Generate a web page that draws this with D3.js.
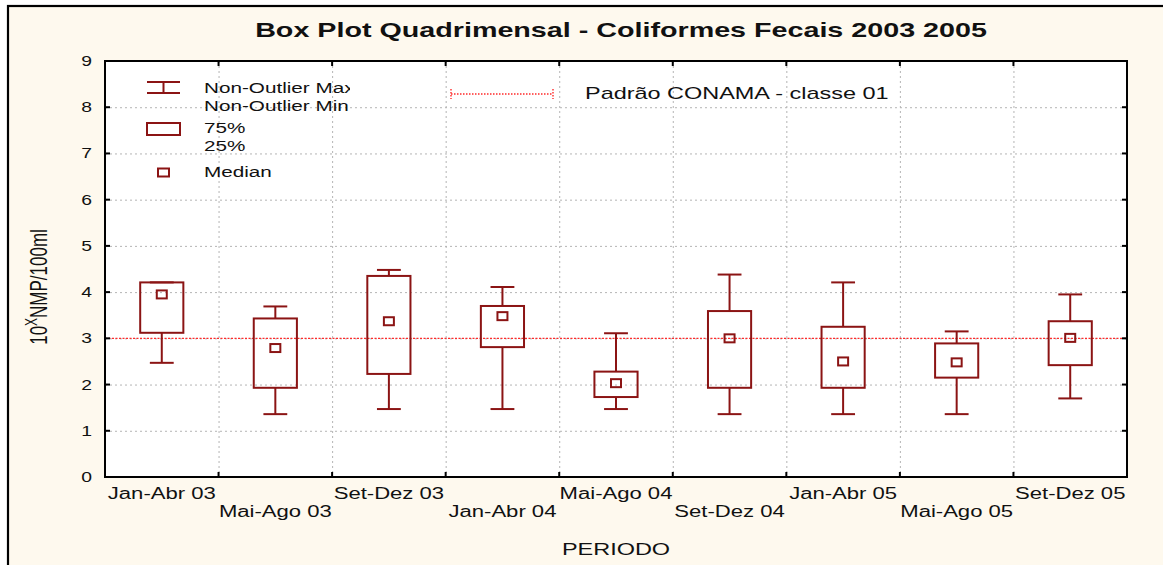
<!DOCTYPE html>
<html>
<head>
<meta charset="utf-8">
<script src="https://cdn.jsdelivr.net/npm/d3@7"></script>
<style>
  html, body { margin: 0; padding: 0; background: #fff; }
  svg { display: block; }
  text { font-family: "Liberation Sans", Arial, sans-serif; fill: #111; }
</style>
</head>
<body>
<svg id="chart" width="1163" height="565"></svg>
<script>
// ---- data ----
const periods = ['Jan-Abr 03', 'Mai-Ago 03', 'Set-Dez 03', 'Jan-Abr 04', 'Mai-Ago 04',
                 'Set-Dez 04', 'Jan-Abr 05', 'Mai-Ago 05', 'Set-Dez 05']
const mins    = [2.47, 1.36, 1.47, 1.47, 1.47, 1.36, 1.36, 1.36, 1.70]
const q1s     = [3.12, 1.93, 2.23, 2.81, 1.73, 1.93, 1.93, 2.15, 2.42]
const medians = [3.95, 2.79, 3.37, 3.48, 2.03, 3.00, 2.50, 2.48, 3.01]
const q3s     = [4.21, 3.43, 4.35, 3.70, 2.28, 3.59, 3.25, 2.89, 3.37]
const maxs    = [4.21, 3.69, 4.48, 4.11, 3.11, 4.38, 4.21, 3.15, 3.95]
const conama  = 3
const yTicks  = [0, 1, 2, 3, 4, 5, 6, 7, 8, 9]

const title = 'Box Plot Quadrimensal - Coliformes Fecais 2003 2005'

const boxColor = '#8b1414'
const refColor = '#ff2a2a'
const sx = 1.38   // the original picture is stretched sideways

const margin = {left: 105, right: 1127, top: 61, bottom: 477}

const svg = d3.select('#chart')

// background + frame (right and bottom edges fall outside the picture)
svg.append('rect').attr('x', 8).attr('y', 6).attr('width', 1170).attr('height', 580)
  .attr('fill', '#fef9ee').attr('stroke', '#000').attr('stroke-width', 2.2)

const x = d3.scaleBand().domain(periods).range([margin.left, margin.right])
const y = d3.scaleLinear().domain([0, 9]).range([margin.bottom, margin.top])
const bw = x.bandwidth()
const cx = d => x(d) + bw / 2

svg.append('rect')
  .attr('x', margin.left).attr('y', margin.top)
  .attr('width', margin.right - margin.left).attr('height', margin.bottom - margin.top)
  .attr('fill', '#fff')

// stretched text helper
const txt = (g, s, px, py, size, anchor, weight) =>
  g.append('text')
    .attr('transform', `translate(${px},${py}) scale(${sx},1)`)
    .attr('text-anchor', anchor || 'start')
    .attr('font-size', size)
    .attr('font-weight', weight || 'normal')
    .text(s)

//---------------- grid ----------------
const grid = svg.append('g').attr('stroke', '#b4b4b4').attr('stroke-width', 1).attr('stroke-dasharray', '2,3')
grid.selectAll('.gy').data(yTicks.slice(1, -1)).join('line')
  .attr('x1', margin.left).attr('x2', margin.right)
  .attr('y1', d => y(d) + 0.5).attr('y2', d => y(d) + 0.5)
grid.selectAll('.gx').data(periods.slice(1)).join('line')
  .attr('x1', d => x(d) + 0.5).attr('x2', d => x(d) + 0.5)
  .attr('y1', margin.top).attr('y2', margin.bottom)

// CONAMA reference line
svg.append('line')
  .attr('x1', margin.left).attr('x2', margin.right)
  .attr('y1', y(conama)).attr('y2', y(conama))
  .attr('stroke', refColor).attr('stroke-width', 1.4).attr('stroke-dasharray', '2,1.5')

//---------------- boxes ----------------
const rows = periods.map((p, i) => ({p, min: mins[i], q1: q1s[i], med: medians[i], q3: q3s[i], max: maxs[i]}))
const boxW = bw * 0.38, capW = bw * 0.21

const boxes = svg.append('g').attr('stroke', boxColor).attr('stroke-width', 2).attr('fill', 'none')
const bx = boxes.selectAll('g').data(rows).join('g')

bx.append('line').attr('x1', d => cx(d.p)).attr('x2', d => cx(d.p))
  .attr('y1', d => y(d.max)).attr('y2', d => y(d.q3))
bx.append('line').attr('x1', d => cx(d.p)).attr('x2', d => cx(d.p))
  .attr('y1', d => y(d.q1)).attr('y2', d => y(d.min))
bx.append('line').attr('x1', d => cx(d.p) - capW / 2).attr('x2', d => cx(d.p) + capW / 2)
  .attr('y1', d => y(d.max)).attr('y2', d => y(d.max))
bx.append('line').attr('x1', d => cx(d.p) - capW / 2).attr('x2', d => cx(d.p) + capW / 2)
  .attr('y1', d => y(d.min)).attr('y2', d => y(d.min))
bx.append('rect')
  .attr('x', d => cx(d.p) - boxW / 2).attr('width', boxW)
  .attr('y', d => y(d.q3)).attr('height', d => y(d.q1) - y(d.q3))
bx.append('rect')
  .attr('x', d => cx(d.p) - 5).attr('width', 10)
  .attr('y', d => y(d.med) - 4).attr('height', 8)

//---------------- axes ----------------
const axes = svg.append('g').attr('stroke', '#000').attr('stroke-width', 2).attr('fill', 'none')
axes.append('rect')
  .attr('x', margin.left).attr('y', margin.top)
  .attr('width', margin.right - margin.left).attr('height', margin.bottom - margin.top)
// inward ticks
axes.selectAll('.tl').data(yTicks).join('line')
  .attr('x1', margin.left).attr('x2', margin.left + 5).attr('y1', d => y(d)).attr('y2', d => y(d))
axes.selectAll('.tr').data(yTicks).join('line')
  .attr('x1', margin.right - 5).attr('x2', margin.right).attr('y1', d => y(d)).attr('y2', d => y(d))
axes.selectAll('.tb').data(periods.slice(1)).join('line')
  .attr('x1', d => x(d)).attr('x2', d => x(d)).attr('y1', margin.bottom - 5).attr('y2', margin.bottom)
axes.selectAll('.tt').data(periods.slice(1)).join('line')
  .attr('x1', d => x(d)).attr('x2', d => x(d)).attr('y1', margin.top).attr('y2', margin.top + 5)

const labels = svg.append('g')
yTicks.forEach(t => txt(labels, t, margin.left - 13, y(t) + 5, 14, 'end'))
periods.forEach((p, i) => txt(labels, p, cx(p), i % 2 === 0 ? 499 : 517, 16, 'middle'))
txt(labels, 'PERIODO', (margin.left + margin.right) / 2, 555, 17, 'middle')
txt(labels, title, 621, 37, 20.8, 'middle', 'bold')

// y axis title, rotated (stretch applies along the glyph height)
const yl = labels.append('text')
  .attr('transform', `translate(47,287) scale(${sx},1) rotate(-90)`)
  .attr('text-anchor', 'middle').attr('font-size', 17)
yl.append('tspan').text('10')
yl.append('tspan').attr('dy', -7).attr('font-size', 12).text('X')
yl.append('tspan').attr('dy', 7).text('NMP/100ml')

//---------------- legend ----------------
svg.append('clipPath').attr('id', 'legclip').append('rect')
  .attr('x', 0).attr('y', 0).attr('width', 350).attr('height', 565)
const leg = svg.append('g')
const legIcons = leg.append('g').attr('stroke', boxColor).attr('stroke-width', 2).attr('fill', 'none')
legIcons.append('line').attr('x1', 147).attr('x2', 180).attr('y1', 82).attr('y2', 82)
legIcons.append('line').attr('x1', 147).attr('x2', 180).attr('y1', 93).attr('y2', 93)
legIcons.append('line').attr('x1', 163.5).attr('x2', 163.5).attr('y1', 82).attr('y2', 93)
legIcons.append('rect').attr('x', 147).attr('y', 123).attr('width', 33).attr('height', 12)
legIcons.append('rect').attr('x', 158).attr('y', 168.5).attr('width', 11).attr('height', 8)

const legText = leg.append('g').attr('clip-path', 'url(#legclip)')
txt(legText, 'Non-Outlier Max', 204, 93, 15)
txt(legText, 'Non-Outlier Min', 204, 110.5, 15)
txt(legText, '75%', 204, 133, 15)
txt(legText, '25%', 204, 151, 15)
txt(legText, 'Median', 204, 177, 15)

const refLeg = leg.append('g').attr('stroke', refColor).attr('stroke-width', 1.4).attr('stroke-dasharray', '1.5,1.5')
refLeg.append('line').attr('x1', 451).attr('x2', 553).attr('y1', 94).attr('y2', 94)
refLeg.append('line').attr('x1', 451).attr('x2', 451).attr('y1', 89).attr('y2', 99)
refLeg.append('line').attr('x1', 553).attr('x2', 553).attr('y1', 89).attr('y2', 99)
txt(leg, 'Padrão CONAMA - classe 01', 585, 98.5, 17)
</script>
</body>
</html>
